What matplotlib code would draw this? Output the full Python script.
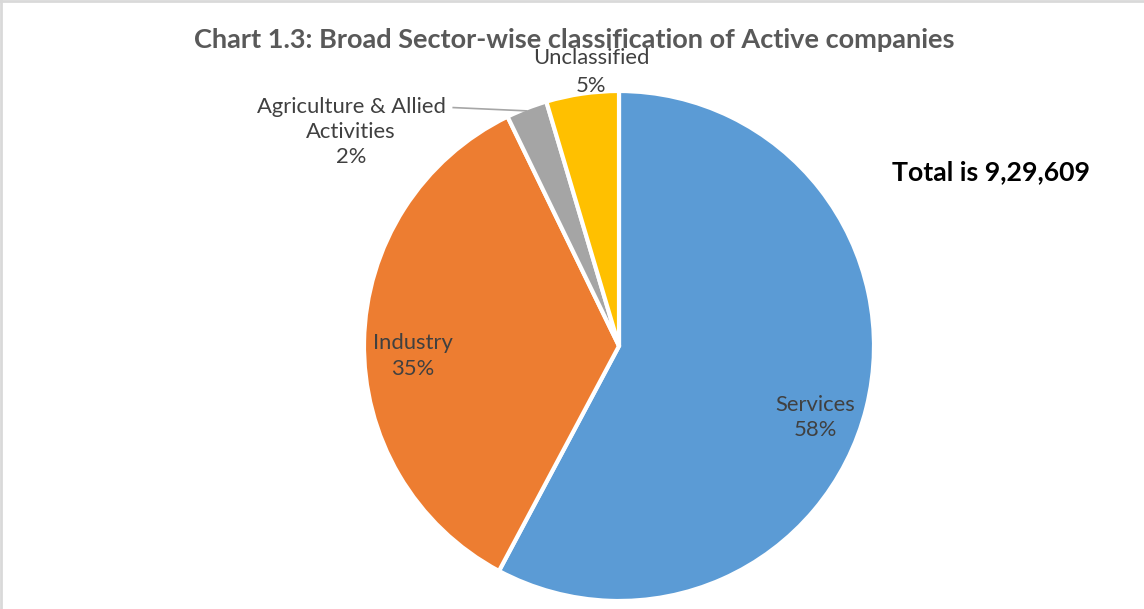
import matplotlib
matplotlib.use('Agg')
from matplotlib import pyplot as plt
import numpy as np

# data
sectors = ['Services', 'Industry', 'Agriculture & Allied\nActivities', 'Unclassified']
shares = [57.8, 35.0, 2.6, 4.6]
pct_labels = ['58%', '35%', '2%', '5%']
colors = ['#5B9BD5', '#ED7D31', '#A5A5A5', '#FFC000']
total_text = 'Total is 9,29,609'
title = 'Chart 1.3: Broad Sector-wise classification of Active companies'

plt.rcParams['font.family'] = ['Lato', 'DejaVu Sans']

fig = plt.figure(figsize=(11.44, 6.09), dpi=100)
fig.patch.set_facecolor('white')

# pie axes: centre (619,346) px, radius 255 px
W, H = 1144, 609
ax = fig.add_axes([(619 - 255) / W, (609 - 601) / H, 510 / W, 510 / H])
wedges, _ = ax.pie(shares, colors=colors, startangle=90, counterclock=False,
                   wedgeprops=dict(edgecolor='white', linewidth=3))
ax.set_xlim(-1, 1)
ax.set_ylim(-1, 1)
ax.set_aspect('equal')
ax.axis('off')

lab_col = '#404040'
fs = 15.8
# label positions (data units of pie axes)
pos = [(0.77, -0.28), (-0.81, -0.04), (-1.05, 0.84), (-0.11, 1.075)]
spacing = [1.35, 1.35, 1.3, 1.5]
for name, pct, (x, y), ls in zip(sectors, pct_labels, pos, spacing):
    ax.text(x, y, name + '\n' + pct, ha='center', va='center', fontsize=fs,
            color=lab_col, linespacing=ls, clip_on=False)

# leader line for the small slice
a = np.deg2rad(90 - 360 * (shares[0] + shares[1] + shares[2] / 2) / 100)
ax.plot([-0.65, np.cos(a)], [0.935, np.sin(a) - 0.01], color='#A6A6A6', lw=1.2,
        clip_on=False)

fig.text(574 / W, 1 - 40 / H, title, ha='center', va='center', fontsize=19.5,
         fontweight='bold', color='#595959')
fig.text(991 / W, 1 - 172 / H, total_text, ha='center', va='center', fontsize=19.2,
         fontweight='bold', color='black')

# light frame at left and top
fig.add_artist(plt.Line2D([0.001, 0.001], [0, 1], color='#D9D9D9', lw=2, transform=fig.transFigure))
fig.add_artist(plt.Line2D([0, 1], [0.999, 0.999], color='#D9D9D9', lw=2, transform=fig.transFigure))

plt.savefig('out.png', dpi=100)
